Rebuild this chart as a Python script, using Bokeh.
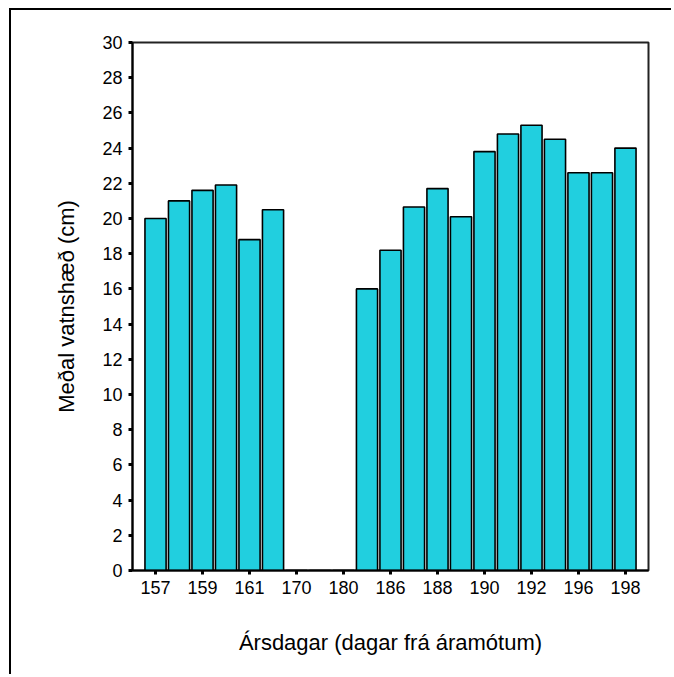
from bokeh.plotting import figure
from bokeh.models import Range1d, FixedTicker, ColumnDataSource
from bokeh.embed import file_html
from bokeh.resources import INLINE

# Data
days = ["157", "158", "159", "160", "161", "162", "170", "175", "180", "185",
        "186", "187", "188", "189", "190", "191", "192", "193", "196", "197", "198"]
water_level = [20.0, 21.0, 21.6, 21.9, 18.8, 20.5, 0.0, 0.0, 0.0, 16.0,
               18.2, 20.65, 21.7, 20.1, 23.8, 24.8, 25.3, 24.5, 22.6, 22.6, 24.0]
y_ticks = list(range(0, 31, 2))

idx = list(range(len(days)))
src = ColumnDataSource(dict(x=idx, top=water_level, day=days))

FONT = "Liberation Sans"

p = figure(width=662, height=666, output_backend="svg", toolbar_location=None,
           x_range=Range1d(-0.98, len(days) - 1 + 0.98), y_range=Range1d(0, 30),
           min_border_left=121, min_border_top=32, min_border_right=25, min_border_bottom=106,
           styles={"border-top": "2px solid black", "border-left": "2px solid black",
                   "margin-top": "8px", "margin-left": "9px"})

p.vbar(x="x", top="top", width=0.9, bottom=0, source=src,
       fill_color="#21CFDF", line_color="black", line_width=1.6)

p.grid.visible = False
p.outline_line_color = "#222222"
p.outline_line_width = 2

# x axis
p.xaxis.ticker = FixedTicker(ticks=idx[::2])
p.xaxis.major_label_overrides = {i: days[i] for i in idx[::2]}
p.xaxis.axis_label = "Ársdagar (dagar frá áramótum)"
# y axis
p.yaxis.ticker = FixedTicker(ticks=y_ticks)
p.yaxis.axis_label = "Meðal vatnshæð (cm)"

for ax in (p.xaxis, p.yaxis):
    ax.axis_line_color = "black"
    ax.axis_line_width = 2
    ax.major_tick_line_color = "black"
    ax.major_tick_line_width = 3
    ax.major_tick_out = 4
    ax.major_tick_in = 0
    ax.minor_tick_line_color = None
    ax.major_label_text_font = FONT
    ax.major_label_text_font_size = "18px"
    ax.major_label_text_color = "black"
    ax.axis_label_text_font = FONT
    ax.axis_label_text_font_size = "22px"
    ax.axis_label_text_font_style = "normal"
    ax.axis_label_text_color = "black"
    ax.major_label_standoff = 6

p.xaxis.axis_label_standoff = 33
p.yaxis.axis_label_standoff = 20

open("out.html", "w").write(file_html(p, INLINE))
